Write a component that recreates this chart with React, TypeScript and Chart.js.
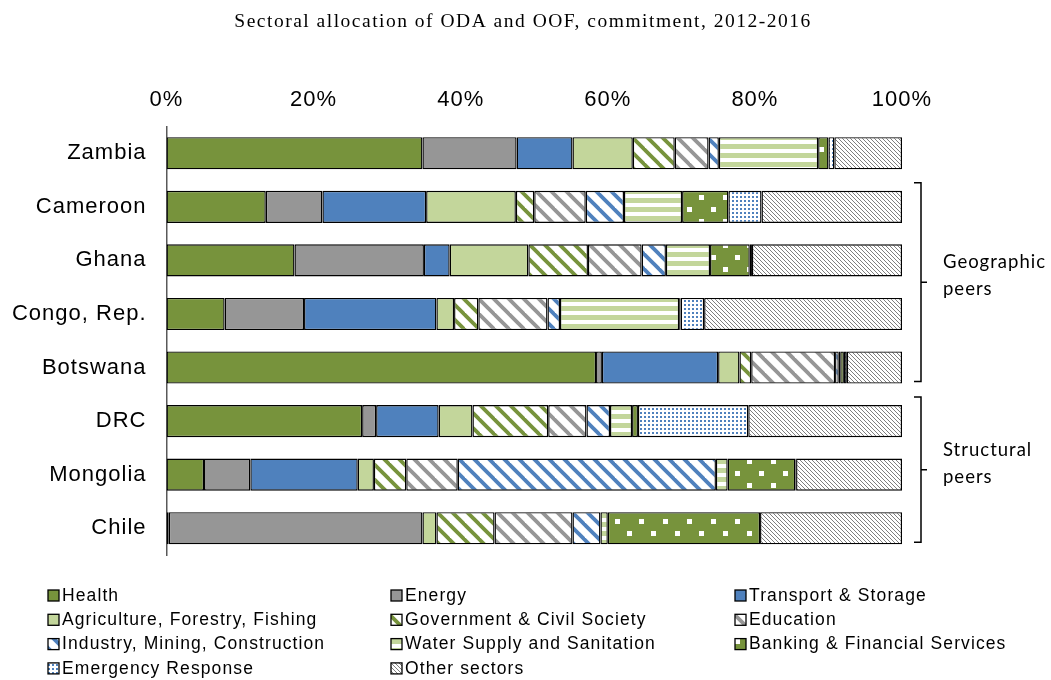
import { useEffect, useRef } from "react";
import { Chart, registerables } from "chart.js";
Chart.register(...registerables);

const chartTitle = "Sectoral allocation of ODA and OOF, commitment, 2012-2016";
const countries = ["Zambia", "Cameroon", "Ghana", "Congo, Rep.", "Botswana", "DRC", "Mongolia", "Chile"];
const sectors = [
  "Health",
  "Energy",
  "Transport & Storage",
  "Agriculture, Forestry, Fishing",
  "Government & Civil Society",
  "Education",
  "Industry, Mining, Construction",
  "Water Supply and Sanitation",
  "Banking & Financial Services",
  "Emergency Response",
  "Other sectors",
];

const health = [34.8, 13.5, 17.4, 7.9, 58.4, 26.6, 5.1, 0.3];
const energy = [12.8, 7.7, 17.6, 10.8, 0.8, 1.9, 6.3, 34.5];
const transport = [7.6, 14.1, 3.5, 18.0, 15.8, 8.5, 14.6, 0];
const agriculture = [8.2, 12.2, 10.7, 2.4, 2.9, 4.6, 2.2, 1.9];
const government = [5.7, 2.5, 8.1, 3.3, 1.6, 10.3, 4.4, 7.9];
const education = [4.6, 7.0, 7.3, 9.4, 11.4, 5.2, 7.0, 10.6];
const industry = [1.4, 5.2, 3.3, 1.7, 0.5, 3.2, 35.1, 3.8];
const water = [13.5, 7.9, 6.0, 16.2, 0.2, 3.0, 1.6, 1.0];
const banking = [1.4, 6.3, 5.4, 0.2, 0.5, 0.8, 9.2, 20.7];
const emergency = [0.8, 4.5, 0.3, 3.2, 0.4, 15.0, 0.1, 0];
const other = [9.2, 19.1, 20.4, 26.9, 7.5, 20.9, 14.4, 19.3];
const seriesValues = [health, energy, transport, agriculture, government, education, industry, water, banking, emergency, other];

const groupLabels = [["Geographic", "peers"], ["Structural", "peers"]];
const groupRanges = [[1, 4], [5, 7]];

const OLIVE = "#77933C";
const GRAY = "#969696";
const BLUE = "#4F81BD";
const LIGHT = "#C3D69B";

function makePattern(w: number, h: number, draw: (g: CanvasRenderingContext2D) => void) {
  const c = document.createElement("canvas");
  c.width = w;
  c.height = h;
  const g = c.getContext("2d") as CanvasRenderingContext2D;
  draw(g);
  return g.createPattern(c, "repeat") as CanvasPattern;
}

function diag(color: string) {
  const p = 15;
  return makePattern(p, p, (g) => {
    g.fillStyle = "#fff";
    g.fillRect(0, 0, p, p);
    g.strokeStyle = color;
    g.lineWidth = 3.8;
    for (const o of [-p, 0, p]) {
      g.beginPath();
      g.moveTo(o - 2, -2);
      g.lineTo(o + p + 2, p + 2);
      g.stroke();
    }
  });
}

export default function App() {
  const ref = useRef<HTMLCanvasElement | null>(null);
  useEffect(() => {
    if (!ref.current) return;
    const fills: (string | CanvasPattern)[] = [
      OLIVE,
      GRAY,
      BLUE,
      LIGHT,
      diag(OLIVE),
      diag(GRAY),
      diag(BLUE),
      makePattern(9, 9, (g) => {
        g.fillStyle = "#fff";
        g.fillRect(0, 0, 9, 9);
        g.fillStyle = LIGHT;
        g.fillRect(0, 0, 9, 5);
      }),
      makePattern(24, 24, (g) => {
        g.fillStyle = OLIVE;
        g.fillRect(0, 0, 24, 24);
        g.fillStyle = "#fff";
        g.fillRect(3, 3, 5, 5);
        g.fillRect(15, 15, 5, 5);
      }),
      makePattern(4, 4, (g) => {
        g.fillStyle = "#fff";
        g.fillRect(0, 0, 4, 4);
        g.fillStyle = BLUE;
        g.fillRect(0, 0, 2, 2);
      }),
      makePattern(4, 4, (g) => {
        g.fillStyle = "#fff";
        g.fillRect(0, 0, 4, 4);
        g.fillStyle = "#7f7f7f";
        for (let i = 0; i < 4; i++) g.fillRect(i, i, 1, 1);
      }),
    ];

    const spacingPlugin = {
      id: "spacing",
      beforeUpdate(chart: any) {
        (chart.ctx as any).letterSpacing = "1px";
      },
      beforeDraw(chart: any) {
        (chart.ctx as any).letterSpacing = "1px";
      },
    };

    const extrasPlugin = {
      id: "extras",
      afterDraw(chart: any) {
        const ctx = chart.ctx as CanvasRenderingContext2D;
        const area = chart.chartArea;
        const ys = chart.scales.y;
        ctx.save();
        (ctx as any).letterSpacing = "1.5px";
        // title
        ctx.fillStyle = "#000";
        ctx.font = "19.5px 'Liberation Serif', 'Times New Roman', serif";
        ctx.textAlign = "center";
        ctx.textBaseline = "middle";
        ctx.fillText(chartTitle, 523, 22);

        // brackets
        const bx = area.right + 19;
        ctx.strokeStyle = "#000";
        ctx.lineWidth = 1.5;
        groupRanges.forEach((r, gi) => {
          const top = ys.getPixelForValue(r[0]) - 24;
          const bot = ys.getPixelForValue(r[1]) + 14;
          const mid = (top + bot) / 2;
          ctx.beginPath();
          ctx.moveTo(bx - 7, top);
          ctx.lineTo(bx, top);
          ctx.lineTo(bx, bot);
          ctx.lineTo(bx - 7, bot);
          ctx.moveTo(bx, mid);
          ctx.lineTo(bx + 6, mid);
          ctx.stroke();
          ctx.font = "18.5px Lato, 'Open Sans', sans-serif";
          (ctx as any).letterSpacing = "1px";
          ctx.textAlign = "left";
          ctx.textBaseline = "middle";
          ctx.fillText(groupLabels[gi][0], bx + 22, mid - 20);
          ctx.fillText(groupLabels[gi][1], bx + 22, mid + 7);
        });

        // legend
        const cols = [48, 391, 735];
        (ctx as any).letterSpacing = "1.1px";
        ctx.font = "17.5px 'Liberation Sans', Arial, sans-serif";
        chart.data.datasets.forEach((ds: any, i: number) => {
          const x = cols[i % 3];
          const y = 596 + Math.floor(i / 3) * 24.3;
          ctx.fillStyle = ds.backgroundColor;
          ctx.fillRect(x, y - 6, 11, 11);
          ctx.strokeStyle = "#000";
          ctx.lineWidth = 1.3;
          ctx.strokeRect(x, y - 6, 11, 11);
          ctx.fillStyle = "#000";
          ctx.textAlign = "left";
          ctx.textBaseline = "middle";
          ctx.fillText(ds.label, x + 14, y);
        });
        ctx.restore();
      },
    };

    const chart = new Chart(ref.current, {
      type: "bar",
      data: {
        labels: countries,
        datasets: sectors.map((s, i) => ({
          label: s,
          data: seriesValues[i],
          backgroundColor: fills[i] as any,
          borderColor: "#000",
          borderWidth: 1.4,
          borderSkipped: false,
          categoryPercentage: 1,
          barPercentage: 0.6,
        })),
      },
      options: {
        indexAxis: "y",
        responsive: false,
        animation: false,
        devicePixelRatio: 1,
        layout: { padding: { left: 0, right: 149, top: 0, bottom: 125 } },
        plugins: {
          legend: { display: false },
          title: { display: false },
          tooltip: { enabled: false },
        },
        scales: {
          x: {
            position: "top",
            stacked: true,
            min: 0,
            max: 100,
            grid: { display: false, drawTicks: false },
            border: { display: false },
            ticks: {
              stepSize: 20,
              padding: 13,
              color: "#000",
              font: { family: "'Liberation Sans', Arial, sans-serif", size: 22 },
              callback: (v: any) => v + "%",
            },
            afterFit: (s: any) => {
              s.height = 126.5;
            },
          },
          y: {
            stacked: true,
            grid: { display: false, drawTicks: false },
            border: { display: true, color: "#595959", width: 1.5 },
            ticks: {
              padding: 20,
              color: "#000",
              font: { family: "'Liberation Sans', Arial, sans-serif", size: 22 },
            },
            afterFit: (s: any) => {
              s.width = 166.5;
            },
          },
        },
      },
      plugins: [spacingPlugin, extrasPlugin],
    } as any);
    return () => chart.destroy();
  }, []);

  return (
    <div style={{ position: "fixed", left: 0, top: 0, width: 1051, height: 680, background: "#fff" }}>
      <canvas ref={ref} width={1051} height={680} style={{ display: "block" }} />
    </div>
  );
}
